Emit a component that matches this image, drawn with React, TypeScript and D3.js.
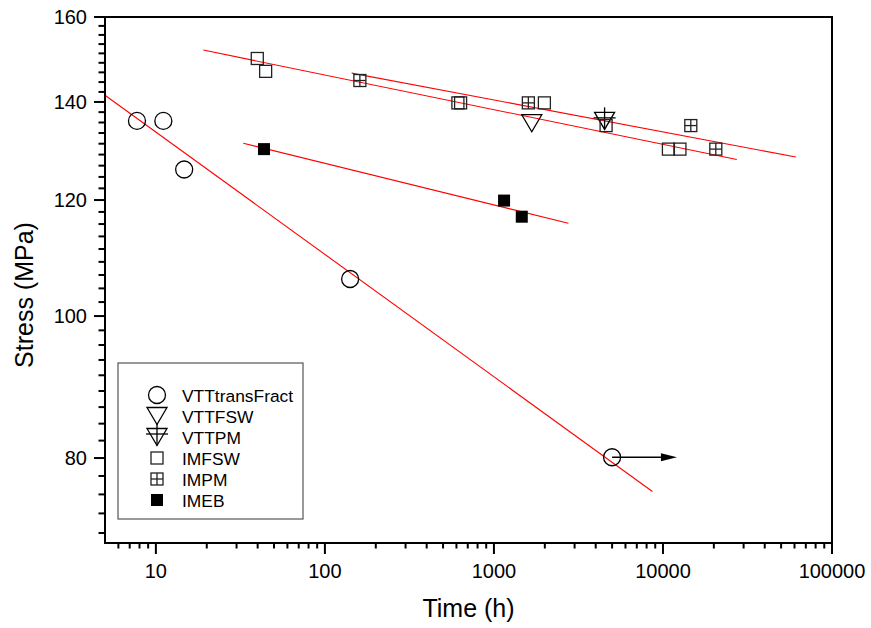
import React from "react";
import * as d3 from "d3";

// ---- data ----
const xTickValues = [10, 100, 1000, 10000, 100000];
const yTickValues = [80, 100, 120, 140, 160];

const vttTransFractX = [7.73, 11.07, 14.7, 141, 5000];
const vttTransFractY = [135.9, 135.9, 125.9, 106, 80.1];
const vttFswX = [1674];
const vttFswY = [135.4];
const vttPmX = [4514];
const vttPmY = [135.9];
const imFswX = [39.8, 44.6, 612, 635, 1988, 4608, 10770, 12600];
const imFswY = [149.9, 146.9, 139.8, 139.8, 139.8, 134.9, 130, 130];
const imPmX = [161, 1598, 14610, 20540];
const imPmY = [144.8, 139.8, 134.9, 130];
const imEbX = [43.6, 1148, 1461];
const imEbY = [130, 119.9, 116.9];

// fitted lines (two end points each)
const fitTransFractX = [5, 8660];
const fitTransFractY = [141.5, 75.9];
const fitImEbX = [32.9, 2756];
const fitImEbY = [131.2, 115.7];
const fitUpperAX = [19.1, 27340];
const fitUpperAY = [151.9, 127.9];
const fitUpperBX = [144, 61090];
const fitUpperBY = [146.5, 128.4];

// runout arrow
const arrowX = [5000, 12100];
const arrowY = [80.1, 80.1];

const legendNames = ["VTTtransFract", "VTTFSW", "VTTPM", "IMFSW", "IMPM", "IMEB"];
const legendTypes = ["circle", "tri", "triplus", "square", "squareplus", "filled"];

const FONT = "'Liberation Sans', Arial, Helvetica, sans-serif";

const W = 871;
const H = 628;
const left = 105, right = 832, top = 17, bottom = 543;

const x = d3.scaleLog().domain([5, 100000]).range([left, right]);
const y = d3.scaleLog().domain([70, 160]).range([bottom, top]);

function Sym({ type, cx, cy }: { type: string; cx: number; cy: number }) {
  const sw = 1.3;
  if (type === "circle") {
    return <circle cx={cx} cy={cy} r={8.5} fill="none" stroke="#000" strokeWidth={sw} />;
  }
  if (type === "tri" || type === "triplus") {
    const w = 10, h = 8.5;
    const pts = `${cx - w},${cy - h} ${cx + w},${cy - h} ${cx},${cy + h}`;
    return (
      <g>
        <polygon points={pts} fill="none" stroke="#000" strokeWidth={sw} />
        {type === "triplus" && (
          <g stroke="#000" strokeWidth={sw}>
            <line x1={cx} x2={cx} y1={cy - h - 5} y2={cy + h} />
            <line x1={cx - w - 1} x2={cx + w + 1} y1={cy - 3} y2={cy - 3} />
          </g>
        )}
      </g>
    );
  }
  const s = 6;
  if (type === "filled") {
    return <rect x={cx - s} y={cy - s} width={2 * s} height={2 * s} fill="#000" />;
  }
  return (
    <g stroke="#222" strokeWidth={sw} fill="none">
      <rect x={cx - s} y={cy - s} width={2 * s} height={2 * s} />
      {type === "squareplus" && (
        <>
          <line x1={cx} x2={cx} y1={cy - s} y2={cy + s} />
          <line x1={cx - s} x2={cx + s} y1={cy} y2={cy} />
        </>
      )}
    </g>
  );
}

function pts(xs: number[], ys: number[]) {
  return xs.map((v, i) => [v, ys[i]] as [number, number]);
}

export default function App() {
  const line = d3
    .line<[number, number]>()
    .x((d) => x(d[0]))
    .y((d) => y(d[1]));

  // minor ticks
  const xMinor: number[] = [];
  for (let e = 0; e <= 4; e++) {
    for (let m = 1; m <= 9; m++) {
      const v = m * Math.pow(10, e);
      if (v > 5 && v < 100000 && m !== 1) xMinor.push(v);
    }
  }
  const yStep = (yTickValues[1] - yTickValues[0]) / 9;
  const yMinor: number[] = [];
  for (let v = yTickValues[0] - yStep * 4; v < 160 - 1e-6; v += yStep) {
    if (v > 70 && !yTickValues.some((t) => Math.abs(t - v) < 1e-6)) yMinor.push(v);
  }

  const fits = [
    pts(fitTransFractX, fitTransFractY),
    pts(fitImEbX, fitImEbY),
    pts(fitUpperAX, fitUpperAY),
    pts(fitUpperBX, fitUpperBY),
  ];

  const series: { type: string; xs: number[]; ys: number[] }[] = [
    { type: "circle", xs: vttTransFractX, ys: vttTransFractY },
    { type: "tri", xs: vttFswX, ys: vttFswY },
    { type: "triplus", xs: vttPmX, ys: vttPmY },
    { type: "square", xs: imFswX, ys: imFswY },
    { type: "squareplus", xs: imPmX, ys: imPmY },
    { type: "filled", xs: imEbX, ys: imEbY },
  ];

  const ax0 = x(arrowX[0]);
  const ax1 = x(arrowX[1]);
  const ay = y(arrowY[0]);

  return (
    <svg width={W} height={H} style={{ position: "absolute", left: 0, top: 0, background: "#fff" }}>
      <rect x={0} y={0} width={W} height={H} fill="#fff" />
      {/* fitted lines */}
      {fits.map((f, i) => (
        <path key={i} d={line(f) || ""} fill="none" stroke="#ff0000" strokeWidth={1.1} />
      ))}
      {/* arrow */}
      <line x1={ax0} x2={ax1 - 14} y1={ay} y2={ay} stroke="#000" strokeWidth={1.5} />
      <polygon points={`${ax1},${ay} ${ax1 - 16},${ay - 4} ${ax1 - 16},${ay + 4}`} fill="#000" />
      {/* symbols */}
      {series.map((s, si) =>
        s.xs.map((v, i) => <Sym key={`${si}-${i}`} type={s.type} cx={x(v)} cy={y(s.ys[i])} />)
      )}
      {/* frame */}
      <g stroke="#000" strokeWidth={2} fill="none">
        <line x1={left} x2={right + 1} y1={top} y2={top} />
        <line x1={right} x2={right} y1={top} y2={bottom} />
        <line x1={left} x2={right + 1} y1={bottom} y2={bottom} />
        <line x1={left} x2={left} y1={top - 1} y2={bottom + 1} />
      </g>
      {/* ticks */}
      <g stroke="#000" strokeWidth={2}>
        {xTickValues.map((t) => (
          <line key={t} x1={x(t)} x2={x(t)} y1={bottom} y2={bottom + 11} />
        ))}
        {xMinor.map((t) => (
          <line key={t} x1={x(t)} x2={x(t)} y1={bottom} y2={bottom + 5.5} />
        ))}
        {yTickValues.map((t) => (
          <line key={t} x1={left - 11} x2={left} y1={y(t)} y2={y(t)} />
        ))}
        {yMinor.map((t) => (
          <line key={t} x1={left - 6.5} x2={left} y1={y(t)} y2={y(t)} />
        ))}
      </g>
      <g fontFamily={FONT} fontSize={20} fill="#000">
        {xTickValues.map((t) => (
          <text key={t} x={x(t)} y={578} textAnchor="middle">
            {String(t)}
          </text>
        ))}
        {yTickValues.map((t) => (
          <text key={t} x={87} y={y(t) + 7} textAnchor="end">
            {String(t)}
          </text>
        ))}
      </g>
      <text x={(left + right) / 2} y={617} textAnchor="middle" fontFamily={FONT} fontSize={25}>
        Time (h)
      </text>
      <text
        transform={`translate(33,${(top + bottom) / 2 + 15}) rotate(-90)`}
        textAnchor="middle"
        fontFamily={FONT}
        fontSize={25}
      >
        Stress (MPa)
      </text>
      {/* legend */}
      <rect x={118} y={363} width={185} height={156} fill="#fff" stroke="#555" strokeWidth={1.2} />
      {legendNames.map((n, i) => {
        const cy = 395 + i * 21;
        return (
          <g key={n}>
            <Sym type={legendTypes[i]} cx={157} cy={cy} />
            <text x={182} y={cy + 6.5} fontFamily={FONT} fontSize={17.4}>
              {n}
            </text>
          </g>
        );
      })}
    </svg>
  );
}
